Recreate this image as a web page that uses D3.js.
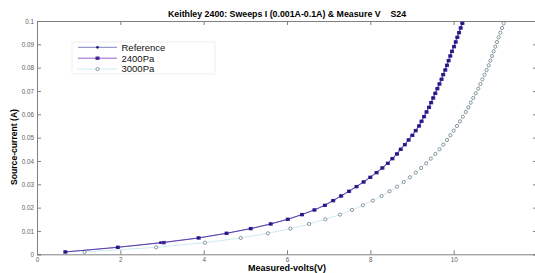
<!DOCTYPE html>
<html>
<head>
<meta charset="utf-8">
<script src="https://cdn.jsdelivr.net/npm/d3@7"></script>
<style>
  body { margin: 0; background: #fff; }
  svg { display: block; font-family: "Liberation Sans", Arial, sans-serif; }
</style>
</head>
<body>
<svg width="535" height="273"></svg>
<script>
// source current levels (A), swept 0.001 .. 0.099
const current = [0.001,0.003,0.005,0.007,0.009,0.011,0.013,0.015,0.017,0.019,
  0.021,0.023,0.025,0.027,0.029,0.031,0.033,0.035,0.037,0.039,
  0.041,0.043,0.045,0.047,0.049,0.051,0.053,0.055,0.057,0.059,
  0.061,0.063,0.065,0.067,0.069,0.071,0.073,0.075,0.077,0.079,
  0.081,0.083,0.085,0.087,0.089,0.091,0.093,0.095,0.097,0.099];

// measured volts
const voltsRef = [0.68,1.93,2.96,3.87,4.54,5.12,5.60,6.01,6.35,6.65,
  6.90,7.10,7.29,7.48,7.66,7.83,7.99,8.14,8.28,8.41,
  8.52,8.63,8.72,8.82,8.91,9.00,9.08,9.16,9.22,9.28,
  9.34,9.40,9.45,9.50,9.55,9.60,9.65,9.70,9.74,9.79,
  9.83,9.87,9.91,9.95,10.00,10.04,10.08,10.12,10.16,10.20];
const volts2400 = [0.68,1.94,3.04,3.88,4.55,5.13,5.61,6.02,6.36,6.66,
  6.91,7.11,7.30,7.49,7.67,7.84,8.00,8.15,8.29,8.42,
  8.53,8.64,8.73,8.83,8.92,9.01,9.09,9.17,9.23,9.29,
  9.35,9.41,9.46,9.51,9.56,9.61,9.66,9.71,9.75,9.80,
  9.84,9.88,9.92,9.96,10.01,10.05,10.09,10.13,10.17,10.21];
const volts3000 = [1.14,2.86,4.03,4.89,5.54,6.08,6.53,6.92,7.27,7.56,
  7.82,8.06,8.27,8.46,8.64,8.80,8.95,9.09,9.22,9.34,
  9.45,9.56,9.66,9.75,9.84,9.92,10.00,10.08,10.15,10.22,
  10.29,10.35,10.41,10.47,10.53,10.59,10.64,10.69,10.74,10.79,
  10.84,10.88,10.92,10.96,11.00,11.04,11.08,11.12,11.16,11.20];

const xTicks = [0,2,4,6,8,10,12];
const yTicks = [0,0.01,0.02,0.03,0.04,0.05,0.06,0.07,0.08,0.09,0.1];
const names = ["Reference","2400Pa","3000Pa"];

const svg = d3.select("svg");
const pLeft = 37, pRight = 537, pTop = 21, pBottom = 254.3;

const x = d3.scaleLinear().domain([0,12]).range([pLeft,pRight]);
const y = d3.scaleLinear().domain([0,0.1]).range([pBottom,pTop]);

const axisCol = "#808080";

// box + inward ticks on all sides, matlab style
function styleAxis(g) {
  g.select(".domain").attr("stroke", axisCol);
  g.selectAll(".tick line").attr("stroke", axisCol);
  g.selectAll(".tick text").attr("fill", "#606060").style("font-size", "6.3px");
}

// the last x label falls past the window edge in the original, leave it off
const xFmt = d => d === 12 ? "" : d3.format("~g")(d);

svg.append("g").attr("transform","translate(0,"+pBottom+")")
  .call(d3.axisBottom(x).tickValues(xTicks).tickSize(-4).tickPadding(3).tickFormat(xFmt))
  .call(styleAxis);
svg.append("g").attr("transform","translate(0,"+pTop+")")
  .call(d3.axisTop(x).tickValues(xTicks).tickSize(-4).tickFormat(""))
  .call(styleAxis);
svg.append("g").attr("transform","translate("+pLeft+",0)")
  .call(d3.axisLeft(y).tickValues(yTicks).tickSize(-4).tickPadding(3).tickFormat(d3.format("~g")))
  .call(styleAxis);
svg.append("g").attr("transform","translate("+pRight+",0)")
  .call(d3.axisRight(y).tickValues(yTicks).tickSize(-4).tickFormat(""))
  .call(styleAxis);

const series = [
  {name: names[0], v: voltsRef,  line: "#2a2a9a", width: 0.6, marker: "dot"},
  {name: names[1], v: volts2400, line: "#8a4fc0", width: 0.9, marker: "square"},
  {name: names[2], v: volts3000, line: "#bfe6ec", width: 0.8, marker: "circle"}
];

const line = d3.line().x(d => x(d[0])).y(d => y(d[1]));

function drawMarker(g, type, cx, cy) {
  if (type === "circle") {
    g.append("circle").attr("cx",cx).attr("cy",cy).attr("r",1.6)
      .attr("fill","#fff").attr("stroke","#6f7f86").attr("stroke-width",0.8);
  } else if (type === "square") {
    g.append("rect").attr("x",cx-2).attr("y",cy-1.7).attr("width",4).attr("height",3.4)
      .attr("fill","#4a2296");
  } else {
    g.append("circle").attr("cx",cx).attr("cy",cy).attr("r",1.4).attr("fill","#1c1c80");
  }
}

// draw 3000Pa first so the overlapping ones sit on top
series.slice().reverse().forEach(s => {
  const pts = s.v.map((v,i) => [v, current[i]]);
  svg.append("path").datum(pts).attr("d", line)
    .attr("fill","none").attr("stroke", s.line).attr("stroke-width", s.width);
  const g = svg.append("g");
  pts.forEach(p => drawMarker(g, s.marker, x(p[0]), y(p[1])));
});

// legend
const leg = svg.append("g");
leg.append("rect").attr("x",72).attr("y",42).attr("width",143).attr("height",32)
  .attr("fill","#fff").attr("stroke","#ececec").attr("stroke-width",0.8);
series.forEach((s,i) => {
  const ly = 47.3 + i*10.9;
  leg.append("line").attr("x1",78).attr("x2",117).attr("y1",ly).attr("y2",ly)
    .attr("stroke", s.line).attr("stroke-width", s.width);
  drawMarker(leg, s.marker, 97.5, ly);
  leg.append("text").attr("x",121.5).attr("y",ly+3.3).text(s.name)
    .style("font-size","9.5px").attr("fill","#111");
});

// titles
svg.append("text").attr("x",287).attr("y",17).attr("text-anchor","middle")
  .style("font-size","8.8px").style("font-weight","bold").style("white-space","pre")
  .text("Keithley 2400: Sweeps I (0.001A-0.1A) & Measure V    S24");
svg.append("text").attr("x",287).attr("y",270.5).attr("text-anchor","middle")
  .style("font-size","9px").style("font-weight","bold")
  .text("Measured-volts(V)");
svg.append("text").attr("transform","translate(17,147) rotate(-90)").attr("text-anchor","middle")
  .style("font-size","8.6px").style("font-weight","bold")
  .text("Source-current (A)");
</script>
</body>
</html>
